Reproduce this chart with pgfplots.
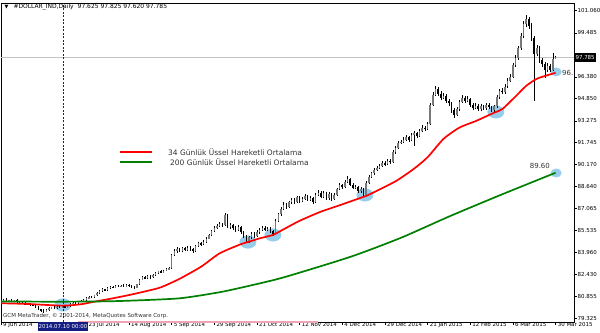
\documentclass[border=0pt]{standalone}
\usepackage{pgfplots}
\usepackage{pgfplotstable}
\pgfplotsset{compat=1.18}
\usepackage{fontspec}
\setmainfont{DejaVu Sans}
\definecolor{emared}{RGB}{255,0,0}
\definecolor{emagreen}{RGB}{0,128,0}
\definecolor{circ}{RGB}{150,205,235}
\definecolor{navyb}{RGB}{20,30,130}
\definecolor{pinkl}{RGB}{240,165,180}
\definecolor{bull}{RGB}{120,120,120}
\definecolor{txtg}{RGB}{50,50,50}

\pgfplotstableread{
x o h l c
0 80.50 80.61 80.45 80.55
1 80.55 80.66 80.47 80.62
2 80.62 80.71 80.46 80.50
3 80.50 80.63 80.44 80.58
4 80.58 80.65 80.43 80.52
5 80.52 80.63 80.47 80.60
6 80.60 80.68 80.42 80.48
7 80.48 80.54 80.37 80.42
8 80.42 80.46 80.30 80.38
9 80.38 80.47 80.26 80.30
10 80.30 80.40 80.24 80.35
11 80.35 80.42 80.19 80.28
12 80.28 80.31 80.15 80.20
13 80.20 80.28 80.04 80.10
14 80.10 80.16 79.90 79.95
15 79.95 79.99 79.77 79.85
16 79.85 79.94 79.68 79.78
17 79.78 79.93 79.72 79.88
18 79.88 80.09 79.79 80.02
19 80.02 80.13 79.97 80.10
20 80.10 80.18 79.99 80.05
21 80.05 80.16 79.97 80.12
22 80.12 80.21 80.03 80.08
23 80.08 80.20 80.00 80.15
24 80.15 80.22 80.05 80.10
25 80.10 80.24 80.06 80.18
26 80.18 80.40 80.14 80.35
27 80.35 80.47 80.30 80.42
28 80.42 80.49 80.33 80.38
29 80.38 80.55 80.34 80.50
30 80.50 80.62 80.46 80.55
31 80.55 80.66 80.50 80.60
32 80.60 80.78 80.56 80.72
33 80.72 80.86 80.67 80.80
34 80.80 80.88 80.72 80.78
35 80.78 80.97 80.74 80.92
36 80.92 81.16 80.88 81.10
37 81.10 81.31 81.05 81.25
38 81.25 81.42 81.20 81.35
39 81.35 81.41 81.24 81.30
40 81.30 81.50 81.26 81.45
41 81.45 81.58 81.40 81.52
42 81.52 81.60 81.42 81.48
43 81.48 81.66 81.44 81.60
44 81.60 81.67 81.49 81.55
45 81.55 81.68 81.50 81.62
46 81.62 81.70 81.52 81.58
47 81.58 81.73 81.54 81.66
48 81.66 81.72 81.55 81.60
49 81.60 81.65 81.46 81.52
50 81.52 81.58 81.40 81.48
51 81.48 81.76 81.44 81.70
52 81.70 82.12 81.66 82.05
53 82.05 82.27 82.00 82.20
54 82.20 82.29 82.08 82.15
55 82.15 82.34 82.10 82.28
56 82.28 82.36 82.12 82.20
57 82.20 82.41 82.15 82.35
58 82.35 82.58 82.30 82.50
59 82.50 82.68 82.44 82.62
60 82.62 82.70 82.48 82.55
61 82.55 82.74 82.50 82.68
62 82.68 82.86 82.62 82.80
63 82.80 82.93 82.74 82.85
64 82.85 83.85 82.80 83.75
65 83.75 84.18 83.68 84.05
66 84.05 84.32 83.95 84.20
67 84.20 84.30 83.98 84.10
68 84.10 84.38 84.02 84.25
69 84.25 84.35 84.05 84.15
70 84.15 84.42 84.08 84.30
71 84.30 84.40 84.10 84.22
72 84.22 84.30 83.95 84.05
73 84.05 84.48 83.98 84.40
74 84.40 84.72 84.32 84.60
75 84.60 84.70 84.42 84.55
76 84.55 84.82 84.48 84.70
77 84.70 85.05 84.62 84.95
78 84.95 85.30 84.88 85.20
79 85.20 85.55 85.12 85.45
80 85.45 85.82 85.38 85.70
81 85.70 85.98 85.60 85.85
82 85.85 86.10 85.75 85.95
83 85.95 86.05 85.78 85.90
84 85.90 86.75 85.85 86.60
85 86.60 86.70 85.70 85.80
86 85.80 86.05 85.65 85.90
87 85.90 86.00 85.55 85.70
88 85.70 85.82 85.40 85.55
89 85.55 85.88 85.45 85.75
90 85.75 85.85 85.30 85.40
91 85.40 85.50 84.98 85.10
92 85.10 85.20 84.60 84.75
93 84.75 85.15 84.65 85.05
94 85.05 85.42 84.95 85.30
95 85.30 85.40 85.02 85.15
96 85.15 85.52 85.08 85.40
97 85.40 85.68 85.30 85.55
98 85.55 85.85 85.45 85.70
99 85.70 85.80 85.48 85.60
100 85.60 85.78 85.50 85.65
101 85.65 85.75 85.35 85.45
102 85.45 85.55 85.15 85.30
103 85.30 86.30 85.25 86.20
104 86.20 86.78 86.10 86.65
105 86.65 87.18 86.55 87.05
106 87.05 87.50 86.95 87.35
107 87.35 87.45 87.05 87.20
108 87.20 87.62 87.12 87.50
109 87.50 87.85 87.40 87.70
110 87.70 87.80 87.42 87.55
111 87.55 87.98 87.48 87.85
112 87.85 87.95 87.45 87.60
113 87.60 87.88 87.50 87.75
114 87.75 88.10 87.65 87.95
115 87.95 88.02 87.58 87.70
116 87.70 87.95 87.60 87.80
117 87.80 87.90 87.40 87.55
118 87.55 88.15 87.48 88.05
119 88.05 88.35 87.95 88.20
120 88.20 88.30 87.80 87.90
121 87.90 88.28 87.82 88.15
122 88.15 88.25 87.65 87.80
123 87.80 88.22 87.70 88.10
124 88.10 88.18 87.62 87.75
125 87.75 88.15 87.68 88.05
126 88.05 88.55 87.98 88.45
127 88.45 88.85 88.38 88.70
128 88.70 88.82 88.48 88.60
129 88.60 89.08 88.52 88.95
130 88.95 89.35 88.85 89.15
131 89.15 89.22 88.65 88.75
132 88.75 88.85 88.42 88.55
133 88.55 88.72 88.45 88.60
134 88.60 88.68 88.18 88.30
135 88.30 88.58 88.20 88.45
136 88.45 88.52 87.92 88.05
137 88.05 89.00 88.00 88.90
138 88.90 89.42 88.82 89.30
139 89.30 89.68 89.20 89.55
140 89.55 89.92 89.45 89.80
141 89.80 90.10 89.70 89.95
142 89.95 90.25 89.85 90.10
143 90.10 90.45 90.00 90.30
144 90.30 90.42 90.05 90.20
145 90.20 90.58 90.12 90.45
146 90.45 90.55 90.22 90.35
147 90.35 91.18 90.28 91.05
148 91.05 91.50 90.95 91.35
149 91.35 91.85 91.25 91.70
150 91.70 91.95 91.60 91.80
151 91.80 92.10 91.70 91.95
152 91.95 92.28 91.85 92.10
153 92.10 92.20 91.75 91.90
154 91.90 92.38 91.82 92.25
155 92.25 92.55 91.50 92.40
156 92.40 92.50 92.05 92.20
157 92.20 92.70 92.10 92.55
158 92.55 92.95 92.45 92.80
159 92.80 92.92 92.55 92.70
160 92.70 93.20 92.60 93.05
161 93.05 94.55 92.95 94.40
162 94.40 95.30 94.30 95.10
163 95.10 95.75 95.00 95.55
164 95.55 95.65 95.05 95.20
165 95.20 95.35 94.75 94.90
166 94.90 95.25 94.80 95.05
167 95.05 95.15 94.55 94.70
168 94.70 94.85 94.30 94.50
169 94.50 94.60 93.85 94.05
170 94.05 94.20 93.50 93.70
171 93.70 94.25 93.60 94.10
172 94.10 94.75 94.00 94.60
173 94.60 95.08 94.50 94.90
174 94.90 95.02 94.55 94.70
175 94.70 95.00 94.58 94.85
176 94.85 94.92 94.25 94.40
177 94.40 94.52 94.05 94.20
178 94.20 94.50 94.08 94.35
179 94.35 94.45 93.95 94.10
180 94.10 94.45 94.00 94.30
181 94.30 94.42 94.02 94.15
182 94.15 94.55 94.05 94.40
183 94.40 94.50 94.10 94.25
184 94.25 94.35 93.90 94.05
185 94.05 94.42 93.88 94.30
186 94.30 95.10 94.20 94.95
187 94.95 95.55 94.85 95.40
188 95.40 95.60 95.15 95.30
189 95.30 95.85 95.20 95.70
190 95.70 96.28 95.60 96.10
191 96.10 96.60 96.00 96.40
192 96.40 97.35 96.30 97.20
193 97.20 97.90 97.05 97.70
194 97.70 98.60 97.60 98.40
195 98.40 99.50 98.25 99.30
196 99.30 100.30 99.15 100.10
197 100.10 100.75 99.90 100.50
198 100.50 100.65 99.80 100.00
199 100.00 100.20 98.95 99.10
200 99.10 99.30 94.70 98.00
201 98.00 98.65 97.85 98.45
202 98.45 98.55 97.35 97.55
203 97.55 97.70 97.10 97.30
204 97.30 97.45 96.30 96.90
205 96.90 97.35 96.75 97.15
206 97.15 97.30 96.70 96.85
207 96.85 98.10 96.80 97.625
208 97.625 97.825 97.62 97.785
}\candles

\begin{document}
\begin{tikzpicture}
\path[use as bounding box] (-1bp,-11bp) rectangle (599bp,322bp);
\begin{axis}[
  scale only axis, width=573bp, height=319bp,
  xmin=0, xmax=214.9, ymin=79.044, ymax=101.605,
  axis background/.style={fill=white},
  axis line style={black, line width=0.6bp},
  clip mode=individual,
  tick align=outside, major tick length=2.5bp,
  tick style={black, line width=0.5bp},
  xtick pos=left, ytick pos=right, yticklabel pos=right,
  xtick={0,16,32,48,64,80,96,112,128,144,160,176,192,208},
  xticklabels={9 Jun 2014,,23 Jul 2014,14 Aug 2014,5 Sep 2014,29 Sep 2014,21 Oct 2014,12 Nov 2014,4 Dec 2014,29 Dec 2014,21 Jan 2015,12 Feb 2015,6 Mar 2015,30 Mar 2015},
  ytick={79.325,80.855,82.430,83.960,85.535,87.065,88.640,90.170,91.745,93.275,94.850,96.380,97.910,99.485,101.060},
  yticklabels={79.325,80.855,82.430,83.960,85.535,87.065,88.640,90.170,91.745,93.275,94.850,96.380,,99.485,101.060},
  /pgf/number format/assume math mode=true,
  ticklabel style={font=\fontsize{5.5}{6.5}\selectfont, text=black},
  every x tick label/.style={anchor=north west, inner sep=0.5bp, xshift=1.5bp, yshift=2.5bp},
  yticklabel style={anchor=west, inner sep=1bp},
]
% price line (current close)
\addplot[forget plot, color={rgb,255:red,195;green,195;blue,195}, line width=0.6bp] coordinates {(0,97.785) (214.9,97.785)};
% highlight circles
\addplot[forget plot, circ, only marks, mark=*, mark size=6.3bp, mark options={xscale=1.3, fill=circ, draw=circ}]
  coordinates {(23.2,80.25) (92.6,84.70) (102.0,85.20) (136.5,88.03) (185.6,93.90)};
\addplot[forget plot, circ, only marks, mark=*, mark size=4.2bp, mark options={xscale=1.25, fill=circ, draw=circ}]
  coordinates {(208.2,96.73) (208.2,89.58)};
% wicks
\addplot[forget plot, draw=none, mark=none,
  error bars/.cd, y dir=both, y explicit, error mark=none, error bar style={draw=black, solid, line width=0.5bp}]
  table[x=x, y expr={(\thisrow{h}+\thisrow{l})/2}, y error expr={(\thisrow{h}-\thisrow{l})/2}] {\candles};
% bull bodies (bars that closed lower are moved out of view)
\addplot[forget plot, draw=none, mark=none,
  error bars/.cd, y dir=both, y explicit, error mark=none, error bar style={draw=bull, solid, line width=1.6bp}]
  table[x expr={\thisrow{c}>=\thisrow{o} ? \thisrow{x} : -50}, y expr={(\thisrow{o}+\thisrow{c})/2}, y error expr={max(abs(\thisrow{c}-\thisrow{o})/2,0.03)}] {\candles};
% bear bodies
\addplot[forget plot, draw=none, mark=none,
  error bars/.cd, y dir=both, y explicit, error mark=none, error bar style={draw=black, solid, line width=1.6bp}]
  table[x expr={\thisrow{c}<\thisrow{o} ? \thisrow{x} : -50}, y expr={(\thisrow{o}+\thisrow{c})/2}, y error expr={max(abs(\thisrow{c}-\thisrow{o})/2,0.03)}] {\candles};
% EMA 34
\addplot[emared, line width=1.7bp, smooth, tension=0.4] coordinates {
(0,80.37) (10,80.32) (23,80.20) (30,80.30) (35,80.48) (42,80.72) (48,80.95) (55,81.25) (60,81.5)
(67,82.1) (75,82.95) (82,83.9) (90,84.55) (93,84.72) (97,84.96) (102,85.2) (105,85.5) (112,86.2)
(120,86.85) (127,87.3) (136,87.9) (138,88.05) (148,89.0) (155,89.9) (160,90.7) (166,92.0)
(172,92.8) (178,93.25) (185,93.85) (188,94.1) (193,95.0) (197,95.75) (201,96.25) (205,96.5) (208,96.67)};
% EMA 200
\addplot[emagreen, line width=1.7bp, smooth, tension=0.4] coordinates {
(0,80.50) (20,80.48) (37,80.50) (48,80.55) (67,80.72) (82,81.15) (93,81.6) (106,82.2)
(131,83.65) (150,85.0) (168,86.5) (187,88.0) (208,89.6)};
% legend (drawn as in the chart)
\draw[emared, line width=1.7bp] (rel axis cs:0.2077,0.5329) -- (rel axis cs:0.2635,0.5329);
\draw[emagreen, line width=1.7bp] (rel axis cs:0.2077,0.5016) -- (rel axis cs:0.2635,0.5016);
\node[anchor=west, inner sep=0pt, text=txtg, font=\fontsize{7.5}{9}\selectfont] at (rel axis cs:0.2914,0.5329) {34 Günlük Üssel Hareketli Ortalama};
\node[anchor=west, inner sep=0pt, text=txtg, font=\fontsize{7.5}{9}\selectfont] at (rel axis cs:0.2949,0.5016) {200 Günlük Üssel Hareketli Ortalama};
% crosshair
\draw[navyb, line width=0.6bp, dash pattern=on 2bp off 1.5bp] (axis cs:23.25,79.044) -- (axis cs:23.25,101.605);
% pink strip
\draw[pinkl, line width=1.2bp] (axis cs:28.9,79.044) -- (axis cs:118.9,79.044);
% texts
\node[anchor=west, inner sep=0pt, font=\fontsize{5}{6}\selectfont] at (rel axis cs:0.006,0.9875) {▼};
\node[anchor=west, inner sep=0pt, font=\fontsize{6}{7}\selectfont] at (rel axis cs:0.0215,0.9875) {\#DOLLAR\_IND,Daily\hspace{4bp}97.625 97.825 97.620 97.785};
\node[anchor=west, inner sep=0pt, text=txtg, font=\fontsize{5.5}{6.5}\selectfont] at (rel axis cs:0.0035,0.0197) {GCM MetaTrader, © 2001-2014, MetaQuotes Software Corp.};
\node[text=txtg, inner sep=0pt, font=\fontsize{7}{8}\selectfont] at (axis cs:202.1,90.07) {89.60};
\node[anchor=west, text=txtg, inner sep=0pt, font=\fontsize{7}{8}\selectfont] at (axis cs:210.4,96.65) {96.};
\node[anchor=west, fill=black, text=white, inner xsep=1.2bp, inner ysep=0pt, minimum height=9bp, font=\fontsize{5.5}{6.5}\selectfont] at (axis cs:214.95,97.785) {97.785};
\node[anchor=north, fill=navyb, text=white, inner xsep=1bp, inner ysep=0pt, minimum height=9bp, font=\fontsize{5.5}{6.5}\selectfont] at (axis cs:23.25,79.044) {2014.07.10 00:00};
\end{axis}
\end{tikzpicture}
\end{document}
